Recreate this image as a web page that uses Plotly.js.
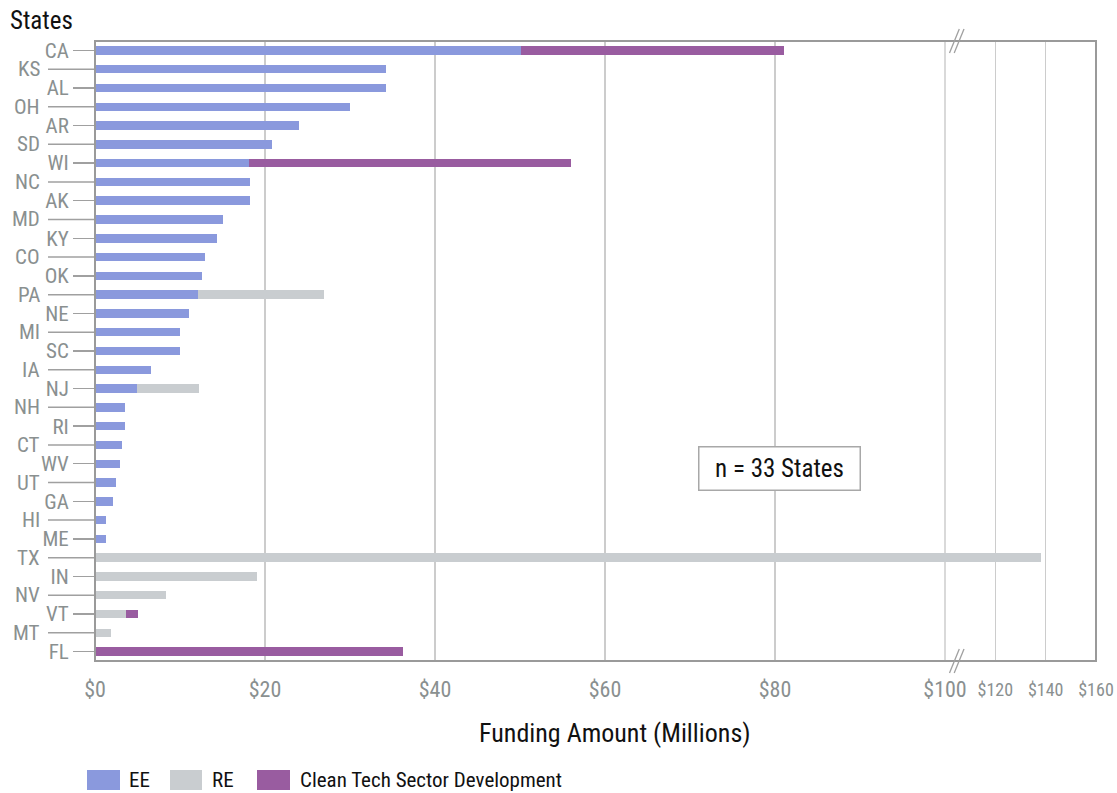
<!DOCTYPE html>
<html>
<head>
<meta charset="utf-8">
<script src="https://cdn.plot.ly/plotly-3.0.1.min.js"></script>
<style>html,body{margin:0;padding:0;background:#fff;}#chart{width:1117px;height:793px;}</style>
</head>
<body>
<div id="chart"></div>
<script>
// ---- data ----
const states = ['CA','KS','AL','OH','AR','SD','WI','NC','AK','MD','KY','CO','OK','PA','NE','MI','SC','IA','NJ','NH','RI','CT','WV','UT','GA','HI','ME','TX','IN','NV','VT','MT','FL'];
const eeValues = [50.1,34.2,34.2,30.0,24.0,20.8,18.1,18.2,18.2,15.0,14.3,12.9,12.6,12.1,11.1,10.05,10.0,6.55,4.95,3.55,3.55,3.2,2.9,2.45,2.15,1.35,1.3,0,0,0,0,0,0];
const reValues = [0,0,0,0,0,0,0,0,0,0,0,0,0,14.8,0,0,0,0,7.3,0,0,0,0,0,0,0,0,138,19.0,8.3,3.6,1.85,0];
const ctValues = [31.0,0,0,0,0,0,37.9,0,0,0,0,0,0,0,0,0,0,0,0,0,0,0,0,0,0,0,0,0,0,0,1.4,0,36.25];
const seriesNames = ['EE','RE','Clean Tech Sector Development'];
const mainTickVals = [0,20,40,60,80,100];
const mainTickText = ['$0','$20','$40','$60','$80','$100'];
const breakTickVals = [100,120,140,160];
const breakTickText = ['','$120','$140','$160'];

const colors = ['#8a99dd','#c9cdd0','#995ca0'];
const FONT = '"Liberation Sans Narrow", "Roboto Condensed", "DejaVu Sans Condensed", "Arial Narrow", Roboto, sans-serif';
const GRAY = '#8a9090';

const values = [eeValues, reValues, ctValues];
const traces = [];
['x','x2'].forEach(function(xa){
  values.forEach(function(v,i){
    traces.push({
      type:'bar', orientation:'h', y: states, x: v, name: seriesNames[i],
      xaxis: xa, yaxis:'y', marker:{color:colors[i], line:{width:0}},
      showlegend:false, hoverinfo:'x+y+name'
    });
  });
});

const innerStates = states.filter((s,i)=> i%2===0);
const outerStates = states.filter((s,i)=> i%2===1);

const L=95, R=1096, T=41, B=661, W=1117, H=793;
const pw = R-L, ph = B-T;
const px = v => (v-L)/pw;
const py = v => (B-v)/ph;
const split = px(945);

const shapes = [];
const annotations = [];
// gridline at the axis break (100)
shapes.push({type:'line', xref:'paper', yref:'paper', x0:split, x1:split, y0:0, y1:1, line:{color:'#cccccc', width:1.5}, layer:'below'});
// outer (staggered) labels with long ticks
outerStates.forEach(function(s){
  const idx = states.indexOf(s);
  shapes.push({type:'line', xref:'paper', yref:'y', x0:px(48), x1:0, y0:idx, y1:idx, line:{color:'#a0a0a0', width:1.5}});
  annotations.push({xref:'paper', yref:'y', x:px(42), y:idx, xanchor:'right', yanchor:'middle', text:s, showarrow:false, font:{family:FONT, size:21, color:GRAY}});
});
// frame
shapes.push({type:'rect', xref:'paper', yref:'paper', x0:0, x1:1, y0:0, y1:1, line:{color:'#9a9a9a', width:2}, layer:'above'});
// break marks
[1,0].forEach(function(yy){
  [0,4.7].forEach(function(dx){
    shapes.push({type:'line', xref:'paper', yref:'paper', x0:px(949.5+dx), x1:px(959.3+dx), y0:yy-12/ph, y1:yy+12/ph, line:{color:'#a0a0a0', width:1.3}});
  });
});
// legend (manual)
const legendItems = [
  {name:seriesNames[0], color:colors[0], x0:87, x1:120, tx:127},
  {name:seriesNames[1], color:colors[1], x0:170, x1:202, tx:210},
  {name:seriesNames[2], color:colors[2], x0:257, x1:290, tx:298}
];
legendItems.forEach(function(it){
  shapes.push({type:'rect', xref:'paper', yref:'paper', x0:px(it.x0), x1:px(it.x1), y0:py(790), y1:py(770), fillcolor:it.color, line:{width:0}});
  annotations.push({xref:'paper', yref:'paper', x:px(it.tx), y:py(780), xanchor:'left', yanchor:'middle', text:it.name, showarrow:false, font:{family:FONT, size:21, color:'#111'}});
});
// x axis title
annotations.push({xref:'paper', yref:'paper', x:px(615), y:py(733), xanchor:'center', yanchor:'middle', text:'Funding Amount (Millions)', showarrow:false, font:{family:FONT, size:26, color:'#111'}});
// n box
annotations.push({xref:'paper', yref:'paper', x:px(779), y:py(468), xanchor:'center', yanchor:'middle', text:'n = 33 States', showarrow:false,
  font:{family:FONT, size:25, color:'#111'}, bgcolor:'#fff', bordercolor:'#a8a8a8', borderwidth:1.5, borderpad:0, width:160, height:42});

const layout = {
  width:W, height:H,
  margin:{l:L, r:W-R, t:T, b:H-B, pad:0},
  paper_bgcolor:'#fff', plot_bgcolor:'#fff',
  barmode:'stack', bargap:0.55,
  showlegend:false,
  font:{family:FONT, color:GRAY},
  title:{text:'States', x:10/W, xanchor:'left', xref:'container', y:1-20/H, yanchor:'middle', yref:'container', font:{family:FONT, size:25, color:'#111'}},
  xaxis:{domain:[0,split], range:[0,100], anchor:'y', tickmode:'array', tickvals:mainTickVals, ticktext:mainTickText,
    showgrid:true, gridcolor:'#cccccc', gridwidth:1.5, zeroline:false, showline:false,
    ticks:'outside', ticklen:9, tickcolor:'rgba(0,0,0,0)', tickfont:{family:FONT, size:22, color:GRAY}, fixedrange:true},
  xaxis2:{domain:[split,1], range:[100,160], anchor:'y', tickmode:'array', tickvals:breakTickVals, ticktext:breakTickText,
    showgrid:true, gridcolor:'#cccccc', gridwidth:1.5, zeroline:false, showline:false,
    ticks:'outside', ticklen:12, tickcolor:'rgba(0,0,0,0)', tickfont:{family:FONT, size:18, color:GRAY}, fixedrange:true},
  yaxis:{type:'category', categoryorder:'array', categoryarray:states, range:[32.5,-0.5], anchor:'x',
    tickmode:'array', tickvals:innerStates, ticktext:innerStates,
    ticks:'outside', ticklen:21, tickwidth:1.5, tickcolor:'#a0a0a0', showgrid:false, zeroline:false, showline:false,
    tickfont:{family:FONT, size:21, color:GRAY}, fixedrange:true},
  shapes:shapes, annotations:annotations
};
Plotly.newPlot('chart', traces, layout, {displayModeBar:false, staticPlot:true});
</script>
</body>
</html>
